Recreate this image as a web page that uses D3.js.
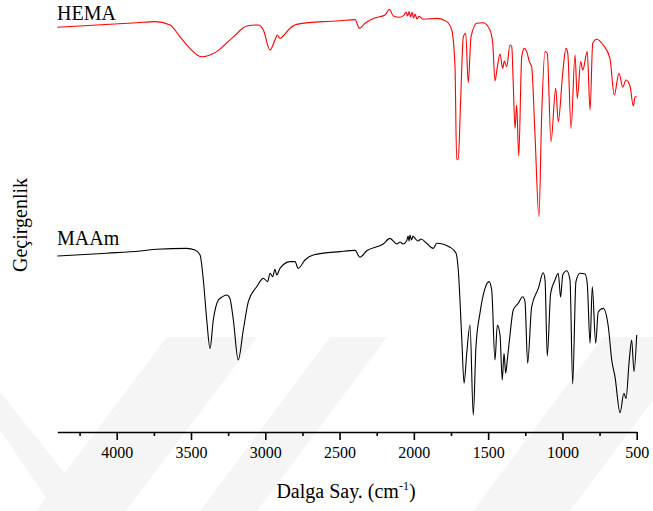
<!DOCTYPE html>
<html>
<head>
<meta charset="utf-8">
<script src="https://cdn.jsdelivr.net/npm/d3@7"></script>
<style>
  body { margin: 0; background: #fff; }
  svg text { font-family: "Liberation Serif", "Times New Roman", Times, serif; }
</style>
</head>
<body>
<svg id="chart" width="653" height="511"></svg>
<script>
// wavenumber (cm-1) / transmittance (a.u.)
const hemaWave = [4400,3866,3742,3641,3574,3507,3428,3327,3215,3125,3047,3013,2968,2935,2919,2901,2879,2845,2789,2610,2497,2396,2366,2329,2273,2194,2165,2138,2093,2066,2052,2042,2032,2022,2012,2002,1992,1979,1965,1936,1846,1779,1745,1723,1712,1701,1685,1667,1651,1634,1615,1577,1533,1488,1469,1454,1438,1420,1402,1391,1375,1353,1341,1331,1319,1308,1294,1274,1257,1240,1223,1207,1185,1158,1140,1117,1102,1077,1045,1028,998,976,964,942,915,900,877,863,833,814,796,769,725,680,651,619,594,572,545,523,511,500];
const hemaT = [101.2,102.3,102.6,101.75,98.8,95.9,93.8,95.1,98.8,101.5,101.75,100.5,95.5,98,99.25,98.4,99,100.5,101.9,102.6,102.8,103.1,100.9,102.2,103.4,104.25,105.7,104,103.7,104.25,105,104,105.1,103.75,104.9,103.5,104.5,103.25,103.9,103.2,103.4,102.6,100.5,91.3,68.2,68.2,83,98.8,99.7,87.3,98.8,102.2,102.3,100.5,97.2,87.8,91.3,94.5,90.9,92.75,91.3,96.75,96.3,87.2,75.9,81.75,69,93.8,95.9,95.1,92.6,91.3,74.7,53.8,78.8,95.1,94.7,72.6,85.9,77.6,89.7,95.9,94.7,75.9,94.25,83.4,92.6,90.5,95.1,80.5,97.2,98.2,96.75,93.4,84.25,89.7,86.2,88,86.5,81.5,83.8,83.8];

const maamWave = [4400,4067,3843,3731,3529,3473,3439,3417,3394,3372,3350,3316,3293,3260,3238,3215,3182,3148,3114,3058,3013,2984,2968,2950,2935,2923,2901,2834,2800,2778,2733,2677,2497,2396,2363,2317,2206,2161,2115,2093,2073,2048,2039,2032,2026,2016,2006,1992,1972,1952,1914,1869,1846,1757,1716,1701,1678,1662,1644,1622,1600,1582,1555,1521,1494,1476,1454,1438,1420,1405,1393,1382,1371,1353,1331,1297,1267,1252,1234,1207,1162,1129,1117,1102,1079,1050,1028,1012,998,971,949,931,909,882,848,833,814,799,776,759,725,691,668,646,612,586,572,550,534,518,500];
const maamT = [44,44.7,45.25,45.7,45.9,45.5,44.25,38,28,20.9,28,33,33.7,34.25,33.4,28,18,25.5,32.6,36.3,38.4,37.6,39.7,38.8,40.7,39.25,40.9,42.6,42.6,40.9,43,44.25,45.1,45.4,43.7,45.3,47,48.4,47,47.5,47,47.8,49,47.75,49.25,48,49,48.4,47.75,48.25,47.2,45.9,47.2,46.2,44.7,40.5,23.8,12.2,19.7,26.75,4.25,21.3,29.7,35.9,37.6,35.5,18,26.75,24.25,13,19.7,14.7,18,24.25,30.5,32.2,33.8,32.6,17.2,31.3,35.9,39.8,38,19,34.7,38,39.7,33.7,39.25,40.3,38,12,37.6,39.7,39.5,37.2,22.2,36.3,22.2,30,30.9,26.3,18,13.8,4.8,9.7,8.4,18,23,15.1,24.25];

const majorTicks = [4000, 3500, 3000, 2500, 2000, 1500, 1000, 500];
const minorTicks = [4250, 3750, 3250, 2750, 2250, 1750, 1250, 750];
const seriesNames = ["HEMA", "MAAm"];
const seriesColors = ["#ff0000", "#000000"];

const serif = "'Liberation Serif', 'Times New Roman', Times, serif";
const svg = d3.select("#chart");

// faint watermark bands in the background
const bands = [
  [[167,337],[257,337],[126,511],[36,511]],
  [[330,337],[387,337],[257,511],[200,511]],
  [[603,337],[700,337],[570,511],[473,511]],
  [[0,392],[0,430],[55,511],[95,511]]
];
svg.append("g").selectAll("polygon")
  .data(bands)
  .enter().append("polygon")
  .attr("points", d => d.map(p => p.join(",")).join(" "))
  .attr("fill", "#f5f5f5");

const x = d3.scaleLinear().domain([4400, 500]).range([57.3, 636.7]);
const y = d3.scaleLinear().domain([0, 108]).range([432, 0]);

const line = d3.line()
  .curve(d3.curveMonotoneX)
  .x(d => x(d[0]))
  .y(d => y(d[1]));

const hema = hemaWave.map((w, i) => [w, hemaT[i]]);
const maam = maamWave.map((w, i) => [w, maamT[i]]);

[hema, maam].forEach((s, i) => {
  svg.append("path")
    .datum(s)
    .attr("d", line)
    .attr("fill", "none")
    .attr("stroke", seriesColors[i])
    .attr("stroke-width", 1.1)
    .attr("stroke-linejoin", "round");
});

// series labels
svg.append("text").attr("x", 57).attr("y", 20)
  .attr("font-family", serif).attr("font-size", 20).text(seriesNames[0]);
svg.append("text").attr("x", 57).attr("y", 245)
  .attr("font-family", serif).attr("font-size", 20).text(seriesNames[1]);

// x axis
const gx = svg.append("g").attr("transform", "translate(0,432)");
gx.call(d3.axisBottom(x).tickValues(majorTicks).tickSize(8).tickSizeOuter(0).tickPadding(7)
  .tickFormat(d3.format("d")));
gx.attr("font-family", serif).attr("font-size", 16);
gx.append("g").call(d3.axisBottom(x).tickValues(minorTicks).tickSize(4).tickFormat(""))
  .select(".domain").remove();
gx.selectAll(".domain").attr("stroke-width", 1.6);
gx.selectAll(".tick line").attr("stroke-width", 1.6);
gx.selectAll(".tick text").attr("fill", "#000");

const xt = svg.append("text")
  .attr("x", 346).attr("y", 498)
  .attr("text-anchor", "middle")
  .attr("font-family", serif)
  .attr("font-size", 20);
xt.append("tspan").text("Dalga Say. (cm");
xt.append("tspan").attr("dy", -8).attr("font-size", 12).text("-1");
xt.append("tspan").attr("dy", 8).text(")");

svg.append("text")
  .attr("transform", "translate(27,225) rotate(-90)")
  .attr("text-anchor", "middle")
  .attr("font-family", serif)
  .attr("font-size", 20)
  .text("Geçirgenlik");
</script>
</body>
</html>
